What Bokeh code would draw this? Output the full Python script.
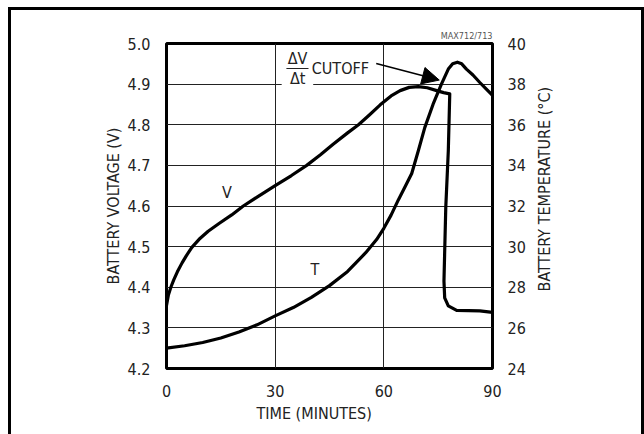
from bokeh.plotting import figure
from bokeh.layouts import row
from bokeh.models import (Range1d, LinearAxis, FixedTicker, PrintfTickFormatter,
                          Label, Arrow, NormalHead, BoxAnnotation, Title)
from bokeh.embed import file_html
from bokeh.resources import INLINE

# ---- data ----
v_time = [0, 0.5, 1.2, 2.0, 3.0, 4.3, 5.5, 7.0, 9.0, 11.5, 14.5, 18.0, 21.2, 25.0,
          30.0, 34.5, 38.7, 42.5, 46.0, 50.0, 53.0, 56.0, 59.0, 62.0, 64.5, 67.0,
          69.5, 72.0, 74.6, 76.5, 78.2, 77.8, 77.1, 76.6, 76.8, 77.8, 80.1, 86.5, 90]
v_volts = [4.355, 4.38, 4.40, 4.418, 4.438, 4.46, 4.478, 4.498, 4.518, 4.538,
           4.557, 4.578, 4.60, 4.622, 4.650, 4.675, 4.70, 4.726, 4.752, 4.78,
           4.80, 4.824, 4.849, 4.871, 4.884, 4.892, 4.894, 4.891, 4.884, 4.879,
           4.876, 4.736, 4.596, 4.415, 4.374, 4.354, 4.343, 4.342, 4.338]

t_time = [0, 5, 10, 15, 20, 25, 30, 35, 40, 45, 50, 55, 58, 60, 62, 64, 66,
          67.7, 69.5, 71.3, 73.6, 75.9, 77.8, 79.0, 80.3, 81.5, 82.8, 84.6,
          86.5, 88.3, 90]
t_temp = [25.0, 25.12, 25.28, 25.5, 25.8, 26.15, 26.59, 27.0, 27.5, 28.08,
          28.78, 29.7, 30.35, 30.9, 31.55, 32.3, 33.0, 33.6, 34.71, 35.86,
          37.01, 38.0, 38.74, 39.0, 39.08, 39.0, 38.74, 38.45, 38.08, 37.75,
          37.45]

x_ticks = [0, 30, 60, 90]
v_ticks = [4.2, 4.3, 4.4, 4.5, 4.6, 4.7, 4.8, 4.9, 5.0]
temp_ticks = [24, 26, 28, 30, 32, 34, 36, 38, 40]

FONT = "'Liberation Sans Narrow', 'DejaVu Sans Condensed', 'Liberation Sans', sans-serif"
TXT = "#222222"

fig = figure(width=517, height=424, output_backend="svg", toolbar_location=None,
             x_range=Range1d(0, 90), y_range=Range1d(4.2, 5.0),
             min_border_left=155, min_border_right=35, min_border_top=33,
             min_border_bottom=66)
fig.extra_y_ranges = {"temp": Range1d(24, 40)}

fig.outline_line_color = "black"
fig.outline_line_width = 3
fig.outline_line_alpha = 1

def style_axis(ax, standoff, label_standoff):
    ax.axis_line_color = None
    ax.major_tick_line_color = None
    ax.minor_tick_line_color = None
    ax.major_tick_out = 0
    ax.major_tick_in = 0
    ax.major_label_text_font = FONT
    ax.major_label_text_font_size = "16px"
    ax.major_label_text_color = TXT
    ax.major_label_standoff = standoff
    ax.axis_label_text_font = FONT
    ax.axis_label_text_font_size = "16px"
    ax.axis_label_text_font_style = "normal"
    ax.axis_label_text_color = TXT
    ax.axis_label_standoff = label_standoff

fig.xaxis.ticker = FixedTicker(ticks=x_ticks)
style_axis(fig.xaxis[0], 16, 0)
fig.yaxis.ticker = FixedTicker(ticks=v_ticks)
fig.yaxis.formatter = PrintfTickFormatter(format="%.1f")
fig.yaxis.axis_label = "BATTERY VOLTAGE (V)"
style_axis(fig.yaxis[0], 16, 2)

raxis = LinearAxis(y_range_name="temp", ticker=FixedTicker(ticks=temp_ticks))
style_axis(raxis, 15, 0)
fig.add_layout(raxis, "right")

# x-axis title (placed slightly left of centre as in the reference)
xt = Title(text="TIME (MINUTES)", align="left", offset=90, text_font=FONT,
           text_font_size="16px", text_font_style="normal", text_color=TXT,
           standoff=5)
fig.add_layout(xt, "below")

# part-number tag above the frame
tag = Title(text="MAX712/713", align="right", text_font=FONT, text_font_size="9px",
            text_font_style="normal", text_color="#555555", standoff=5)
fig.add_layout(tag, "above")

fig.xgrid.ticker = FixedTicker(ticks=x_ticks)
fig.ygrid.ticker = FixedTicker(ticks=v_ticks)
for g in [fig.xgrid[0], fig.ygrid[0]]:
    g.grid_line_color = "#222222"
    g.grid_line_width = 1

# white mask behind the label (interrupts the 4.9 grid line)
fig.add_layout(BoxAnnotation(left=31.8, right=40.5, bottom=4.893, top=4.907,
                             fill_color="white", fill_alpha=1, line_color=None))

fig.line(v_time, v_volts, line_color="black", line_width=3.2, line_join="round")
fig.line(t_time, t_temp, line_color="black", line_width=3.2, line_join="round",
         y_range_name="temp")

def lab(x, y, text, size="16px", align="center", color=TXT):
    fig.add_layout(Label(x=x, y=y, text=text, text_font=FONT, text_font_size=size,
                         text_align=align, text_baseline="middle", text_color=color))

lab(16.7, 4.633, "V")
lab(41.0, 4.444, "T")
lab(36.2, 4.963, "ΔV")
lab(36.2, 4.914, "Δt")
lab(40.1, 4.938, "CUTOFF", align="left")

# fraction bar
fig.segment(x0=[33.1], y0=[4.9385], x1=[39.2], y1=[4.9385], line_color="#222222",
            line_width=1.2)

fig.add_layout(Arrow(end=NormalHead(size=17, fill_color="black", line_color="black"),
                     x_start=57.9, y_start=4.951, x_end=75.3, y_end=4.910,
                     line_color="black", line_width=1.5))

# narrow strip on the right carrying the right-axis title (reads bottom-to-top)
side = figure(width=113, height=424, output_backend="svg", toolbar_location=None,
              x_range=Range1d(0, 113), y_range=Range1d(0, 424),
              x_axis_type=None, y_axis_type=None,
              min_border_left=0, min_border_right=0, min_border_top=0,
              min_border_bottom=0)
side.outline_line_color = None
side.xgrid.visible = False
side.ygrid.visible = False
side.add_layout(Label(x=15.5, y=234, text="BATTERY TEMPERATURE (°C)", angle=90,
                      angle_units="deg", text_font=FONT, text_font_size="16px",
                      text_align="center", text_baseline="middle", text_color=TXT))

p = row(fig, side, spacing=0)
p.styles = {"margin-left": "8px", "margin-top": "7px",
            "border-left": "3px solid black", "border-top": "3px solid black",
            "border-right": "3px solid black"}

open("out.html", "w").write(file_html(p, INLINE))
